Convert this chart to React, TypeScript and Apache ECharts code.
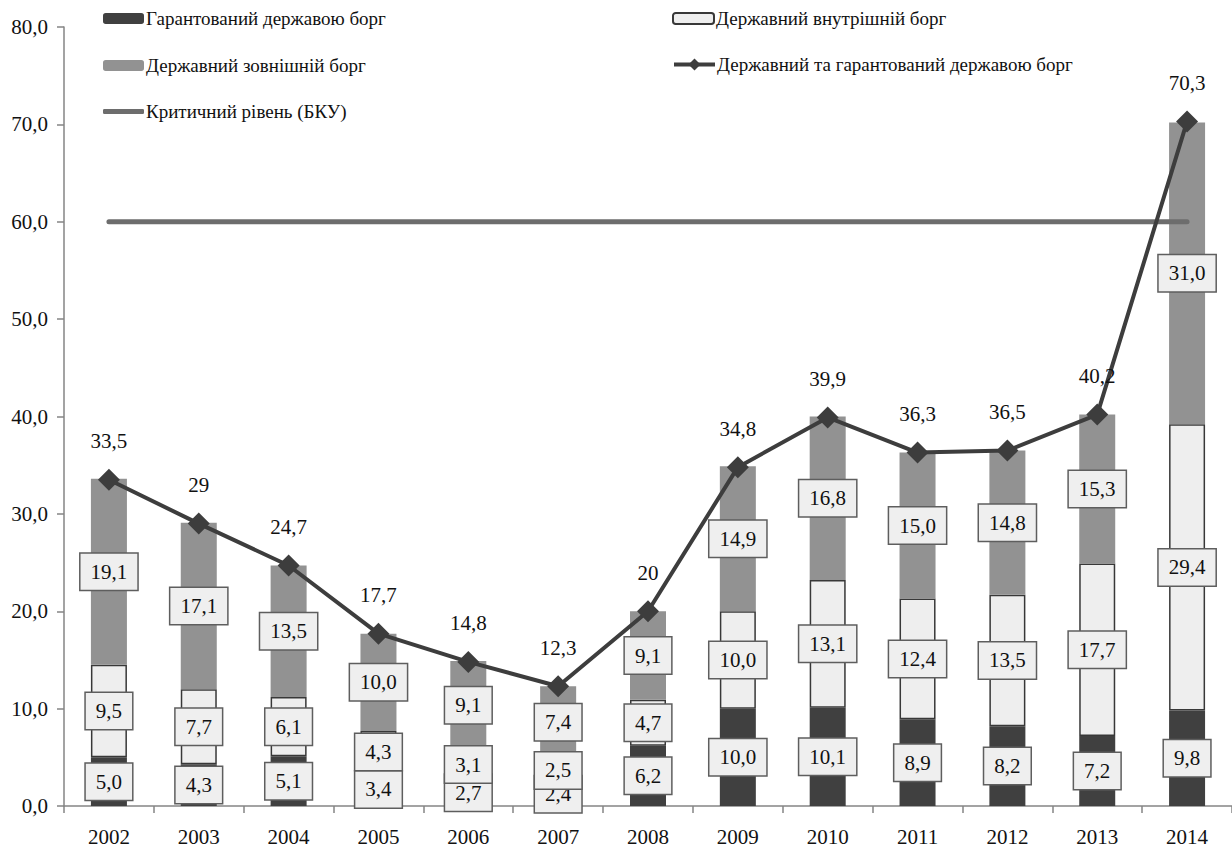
import React, { useEffect, useRef } from "react";
import * as echarts from "echarts";

// Years on the category axis
const years = ["2002", "2003", "2004", "2005", "2006", "2007", "2008", "2009", "2010", "2011", "2012", "2013", "2014"];

// Debt components, % of GDP
const guaranteedDebt = [5.0, 4.3, 5.1, 3.4, 2.7, 2.4, 6.2, 10.0, 10.1, 8.9, 8.2, 7.2, 9.8];
const internalDebt = [9.5, 7.7, 6.1, 4.3, 3.1, 2.5, 4.7, 10.0, 13.1, 12.4, 13.5, 17.7, 29.4];
const externalDebt = [19.1, 17.1, 13.5, 10.0, 9.1, 7.4, 9.1, 14.9, 16.8, 15.0, 14.8, 15.3, 31.0];
const totalDebt = [33.5, 29, 24.7, 17.7, 14.8, 12.3, 20, 34.8, 39.9, 36.3, 36.5, 40.2, 70.3];
const criticalLevel = [60, 60, 60, 60, 60, 60, 60, 60, 60, 60, 60, 60, 60];

const yTicks = { min: 0, max: 80, interval: 10 };

const names = {
  guaranteed: "Гарантований державою борг",
  internal: "Державний внутрішній борг",
  external: "Державний зовнішній борг",
  total: "Державний та гарантований державою борг",
  critical: "Критичний рівень (БКУ)",
};

const SERIF = "Liberation Serif";

const comma1 = (v: number) => v.toFixed(1).replace(".", ",");

const boxLabel = {
  show: true,
  position: "inside" as const,
  fontFamily: SERIF,
  fontSize: 21,
  color: "#111",
  backgroundColor: "#efefef",
  borderColor: "#5e5e5e",
  borderWidth: 1.5,
  padding: [8, 10, 7, 10],
  lineHeight: 21,
  formatter: (p: any) => comma1(p.value),
};

function legendAt(name: string, left: number, top: number, extra: any = {}) {
  return {
    data: [name],
    left,
    top,
    itemWidth: 41,
    itemHeight: 11,
    itemGap: 0,
    padding: 0,
    textStyle: { fontFamily: SERIF, fontSize: 19, color: "#111", padding: [0, 0, 0, -3] },
    ...extra,
  };
}

export default function App() {
  const ref = useRef<HTMLDivElement>(null);

  useEffect(() => {
    if (!ref.current) return;
    const chart = echarts.init(ref.current, null, { renderer: "svg" });
    chart.setOption({
      animation: false,
      backgroundColor: "#ffffff",
      textStyle: { fontFamily: SERIF, color: "#111" },
      legend: [
        legendAt(names.guaranteed, 103, 9),
        legendAt(names.internal, 672, 9),
        legendAt(names.external, 103, 56),
        legendAt(names.total, 672, 55, { itemHeight: 15, lineStyle: { width: 4 } }),
        legendAt(names.critical, 103, 102, { itemHeight: 5, icon: "roundRect" }),
      ],
      grid: { left: 64, right: 0, top: 27, bottom: 42, containLabel: false },
      xAxis: {
        type: "category",
        data: years,
        boundaryGap: true,
        axisLine: { lineStyle: { color: "#858585", width: 1.5 } },
        axisTick: { show: true, length: 7, alignWithLabel: false, lineStyle: { color: "#858585", width: 1.5 } },
        axisLabel: { fontFamily: SERIF, fontSize: 21, color: "#111", margin: 20 },
      },
      yAxis: {
        type: "value",
        min: yTicks.min,
        max: yTicks.max,
        interval: yTicks.interval,
        splitLine: { show: false },
        axisLine: { show: true, lineStyle: { color: "#858585", width: 1.5 } },
        axisTick: { show: true, length: 7, lineStyle: { color: "#858585", width: 1.5 } },
        axisLabel: { fontFamily: SERIF, fontSize: 21, color: "#111", margin: 16, formatter: (v: number) => comma1(v) },
      },
      series: [
        {
          name: names.guaranteed,
          type: "bar",
          stack: "debt",
          barWidth: 36,
          data: guaranteedDebt,
          itemStyle: { color: "#404040" },
          label: boxLabel,
          z: 2,
        },
        {
          name: names.internal,
          type: "bar",
          stack: "debt",
          barWidth: 36,
          data: internalDebt,
          itemStyle: { color: "#eeeeee", borderColor: "#383838", borderWidth: 1.5 },
          label: boxLabel,
          z: 2,
        },
        {
          name: names.external,
          type: "bar",
          stack: "debt",
          barWidth: 36,
          data: externalDebt,
          itemStyle: { color: "#929292" },
          label: boxLabel,
          z: 2,
        },
        {
          name: names.critical,
          type: "line",
          data: criticalLevel,
          symbol: "none",
          lineStyle: { color: "#6d6d6d", width: 5, cap: "round" },
          itemStyle: { color: "#6d6d6d" },
          z: 3,
        },
        {
          name: names.total,
          type: "line",
          data: totalDebt,
          symbol: "diamond",
          symbolSize: 22,
          lineStyle: { color: "#3d3d3d", width: 4 },
          itemStyle: { color: "#3d3d3d" },
          label: {
            show: true,
            position: "top",
            distance: 17,
            fontFamily: SERIF,
            fontSize: 21,
            color: "#111",
            formatter: (p: any) => String(p.value).replace(".", ","),
          },
          z: 4,
        },
      ],
    });
    return () => chart.dispose();
  }, []);

  return <div ref={ref} style={{ position: "absolute", left: 0, top: 0, width: 1232, height: 848 }} />;
}
